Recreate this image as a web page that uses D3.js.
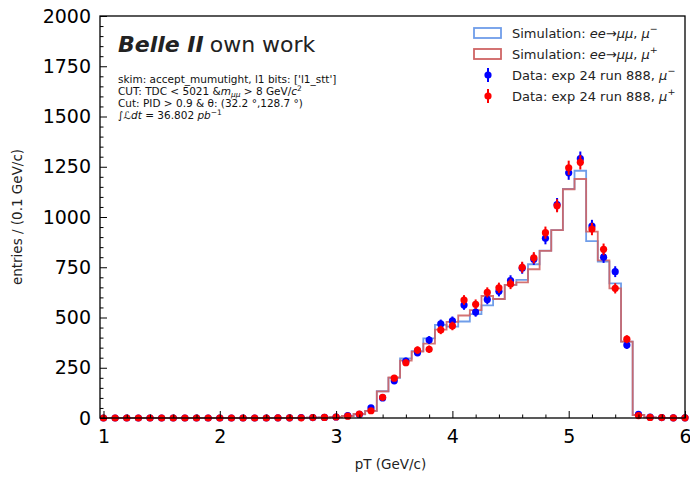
<!DOCTYPE html>
<html>
<head>
<meta charset="utf-8">
<script src="https://cdn.jsdelivr.net/npm/d3@7"></script>
<style>
  html, body { margin: 0; padding: 0; background: #fff; }
  svg { display: block; font-family: "DejaVu Sans", sans-serif; }
</style>
</head>
<body>
<svg id="chart" width="690" height="478"></svg>
<script>
// pT bins: width 0.1 GeV/c, centred on 1.0 ... 6.0
const binCenters = d3.range(10, 61).map(i => i / 10);
const binWidth = 0.1;

// Simulated ee -> mu mu histograms (entries per bin)
const simMuMinus = [
  0, 0, 0, 0, 0, 0, 0, 0, 0, 0, 0, 0, 0, 0, 0,
  0.5, 1, 1, 2, 3,
  5, 10, 18, 35, 133, 200, 296, 333, 396, 463,
  455, 480, 517, 560, 592, 662, 687, 765, 833, 935,
  1140, 1230, 880, 778, 670, 380, 15, 3, 1, 1, 0
];
const simMuPlus = [
  0, 0, 0, 0, 0, 0, 0, 0, 0, 0, 0, 0, 0, 0, 0,
  0.5, 1, 1, 2, 3,
  5, 10, 20, 35, 132, 202, 285, 330, 370, 440,
  478, 510, 537, 607, 592, 662, 675, 740, 831, 935,
  1138, 1189, 927, 784, 645, 380, 15, 3, 1, 1, 0
];

// Data, exp 24 run 888 (entries per bin)
const dataMuMinus = [
  0, 0, 0, 0, 0, 0, 0, 0, 0, 0, 0, 0, 0, 0, 0,
  1, 1, 2, 2, 3,
  5, 12, 18, 50, 100, 185, 283, 325, 388, 468,
  483, 562, 527, 590, 630, 684, 745, 790, 894, 1062,
  1220, 1290, 955, 800, 728, 363, 18, 4, 2, 1, 1
];
const dataMuPlus = [
  0, 0, 0, 0, 0, 0, 0, 0, 0, 0, 0, 0, 0, 0, 0,
  1, 1, 1, 2, 3,
  5, 9, 20, 36, 103, 198, 275, 338, 342, 438,
  458, 587, 566, 625, 648, 667, 750, 797, 922, 1056,
  1245, 1272, 940, 839, 645, 392, 12, 3, 2, 1, 1
];

const xTicks = [1, 2, 3, 4, 5, 6];
const yTicks = [0, 250, 500, 750, 1000, 1250, 1500, 1750, 2000];

const infoLines = [
  "skim: accept_mumutight, l1 bits: ['l1_stt']",
  "CUT: TDC < 5021 &",
  "Cut: PID > 0.9 & \u03B8: (32.2 \u00B0,128.7 \u00B0)",
  "\u222B"
];

const colors = {
  simMinus: "#6f9de9",
  simPlus: "#cf6464",
  dataMinus: "#0000ff",
  dataPlus: "#ff0000"
};

const svg = d3.select("#chart");
const plot = { left: 100, right: 685, top: 16, bottom: 418 };

const x = d3.scaleLinear().domain([0.97, 6.0]).range([plot.left, plot.right]);
const y = d3.scaleLinear().domain([0, 2000]).range([plot.bottom, plot.top]);

// ---- step histograms ----
function stepPath(values) {
  const pts = [];
  binCenters.forEach((c, i) => {
    const lo = Math.max(c - binWidth / 2, x.domain()[0]);
    const hi = Math.min(c + binWidth / 2, x.domain()[1]);
    pts.push([x(lo), y(values[i])]);
    pts.push([x(hi), y(values[i])]);
  });
  return d3.line()(pts);
}

svg.append("path")
  .attr("d", stepPath(simMuMinus))
  .attr("fill", "none")
  .attr("stroke", colors.simMinus)
  .attr("stroke-width", 1.8);

svg.append("path")
  .attr("d", stepPath(simMuPlus))
  .attr("fill", "none")
  .attr("stroke", colors.simPlus)
  .attr("stroke-opacity", 0.9)
  .attr("stroke-width", 1.8);

// ---- data points with Poisson error bars ----
function drawData(values, color) {
  const g = svg.append("g");
  const rows = binCenters.map((c, i) => ({ c, v: values[i], e: Math.sqrt(Math.max(values[i], 1)) }));
  g.selectAll("line").data(rows).join("line")
    .attr("x1", d => x(d.c)).attr("x2", d => x(d.c))
    .attr("y1", d => y(d.v - d.e)).attr("y2", d => y(d.v + d.e))
    .attr("stroke", color).attr("stroke-width", 2);
  g.selectAll("circle").data(rows).join("circle")
    .attr("cx", d => x(d.c)).attr("cy", d => y(d.v))
    .attr("r", 3.6).attr("fill", color);
}
drawData(dataMuMinus, colors.dataMinus);
drawData(dataMuPlus, colors.dataPlus);

// ---- axes ----
const axisColor = "#000";
const xAxis = d3.axisBottom(x).tickValues(xTicks).tickFormat(d3.format("d")).tickSizeInner(-7).tickSizeOuter(0).tickPadding(12);
const xMinor = d3.axisBottom(x).tickValues(d3.range(1, 6.001, 0.2).filter(v => Math.abs(v - Math.round(v)) > 1e-6)).tickFormat("").tickSizeInner(-3.5).tickSizeOuter(0);
const yAxis = d3.axisLeft(y).tickValues(yTicks).tickFormat(d3.format("d")).tickSizeInner(-7).tickSizeOuter(0).tickPadding(9);
const yMinor = d3.axisLeft(y).tickValues(d3.range(50, 2000, 50).filter(v => v % 250 !== 0)).tickFormat("").tickSizeInner(-3.5).tickSizeOuter(0);

function styleAxis(g, fontSize) {
  g.select(".domain").remove();
  g.selectAll(".tick line").attr("stroke", axisColor).attr("stroke-width", 1);
  g.selectAll(".tick text").attr("fill", "#000").style("font-size", fontSize).style("font-family", "DejaVu Sans");
}

svg.append("g").attr("transform", `translate(0,${plot.bottom})`).call(xAxis).call(g => styleAxis(g, "19px"));
svg.append("g").attr("transform", `translate(0,${plot.bottom})`).call(xMinor).call(g => styleAxis(g, "19px"));
svg.append("g").attr("transform", `translate(${plot.left},0)`).call(yAxis).call(g => styleAxis(g, "19px"));
svg.append("g").attr("transform", `translate(${plot.left},0)`).call(yMinor).call(g => styleAxis(g, "19px"));

// frame
svg.append("rect")
  .attr("x", plot.left).attr("y", plot.top)
  .attr("width", plot.right - plot.left).attr("height", plot.bottom - plot.top)
  .attr("fill", "none").attr("stroke", "#000").attr("stroke-width", 1.3);

// axis titles
svg.append("text")
  .attr("x", (plot.left + plot.right) / 2 - 2).attr("y", 469)
  .attr("text-anchor", "middle").style("font-size", "13.5px").attr("fill", "#222")
  .text("pT (GeV/c)");
svg.append("text")
  .attr("transform", `translate(22,${(plot.top + plot.bottom) / 2}) rotate(-90)`)
  .attr("text-anchor", "middle").style("font-size", "13.5px").attr("fill", "#222")
  .text("entries / (0.1 GeV/c)");

// ---- experiment label ----
const label = svg.append("text").attr("x", 118).attr("y", 52).style("font-size", "22px").attr("fill", "#222");
label.append("tspan").attr("font-weight", "bold").attr("font-style", "italic").text("Belle II");
label.append("tspan").attr("dx", 6).text("own work");

// ---- selection info ----
const info = svg.append("g").style("font-size", "10.5px").attr("fill", "#111");
const lineY = [83, 95, 107, 119];
info.append("text").attr("x", 118).attr("y", lineY[0]).text(infoLines[0]);
const cut1 = info.append("text").attr("x", 118).attr("y", lineY[1]);
cut1.append("tspan").text(infoLines[1]);
cut1.append("tspan").attr("font-style", "italic").text("m");
cut1.append("tspan").attr("font-style", "italic").attr("dy", 2).style("font-size", "7.5px").text("\u03BC\u03BC");
cut1.append("tspan").attr("dy", -2).text(" > 8 GeV/");
cut1.append("tspan").attr("font-style", "italic").text("c");
cut1.append("tspan").attr("dy", -4).style("font-size", "7.5px").text("2");
info.append("text").attr("x", 118).attr("y", lineY[2]).text(infoLines[2]);
const lumi = info.append("text").attr("x", 118).attr("y", lineY[3]);
lumi.append("tspan").text(infoLines[3]);
lumi.append("tspan").attr("font-style", "italic").text("\u2112dt");
lumi.append("tspan").text(" = 36.802 ");
lumi.append("tspan").attr("font-style", "italic").text("pb");
lumi.append("tspan").attr("dy", -4).style("font-size", "7.5px").text("\u22121");

// ---- legend ----
const legend = svg.append("g").style("font-size", "13px").attr("fill", "#222");
const legendRows = [
  { kind: "hist", color: colors.simMinus, pre: "Simulation: ", charge: "\u2212", sim: true },
  { kind: "hist", color: colors.simPlus, pre: "Simulation: ", charge: "+", sim: true },
  { kind: "data", color: colors.dataMinus, pre: "Data: exp 24 run 888, ", charge: "\u2212", sim: false },
  { kind: "data", color: colors.dataPlus, pre: "Data: exp 24 run 888, ", charge: "+", sim: false }
];
legendRows.forEach((r, i) => {
  const cy = 33 + i * 21;
  if (r.kind === "hist") {
    legend.append("rect").attr("x", 474).attr("y", cy - 5).attr("width", 27).attr("height", 10)
      .attr("fill", "none").attr("stroke", r.color).attr("stroke-width", 1.8);
  } else {
    legend.append("line").attr("x1", 488).attr("x2", 488).attr("y1", cy - 7).attr("y2", cy + 7)
      .attr("stroke", r.color).attr("stroke-width", 2);
    legend.append("circle").attr("cx", 488).attr("cy", cy).attr("r", 3.6).attr("fill", r.color);
  }
  const t = legend.append("text").attr("x", 512).attr("y", cy + 5);
  t.append("tspan").text(r.pre);
  if (r.sim) {
    t.append("tspan").attr("font-style", "italic").text("ee");
    t.append("tspan").text("\u2192");
    t.append("tspan").attr("font-style", "italic").text("\u03BC\u03BC");
    t.append("tspan").text(", ");
  }
  t.append("tspan").attr("font-style", "italic").text("\u03BC");
  t.append("tspan").attr("dy", -6).style("font-size", "9.5px").text(r.charge);
});
</script>
</body>
</html>
